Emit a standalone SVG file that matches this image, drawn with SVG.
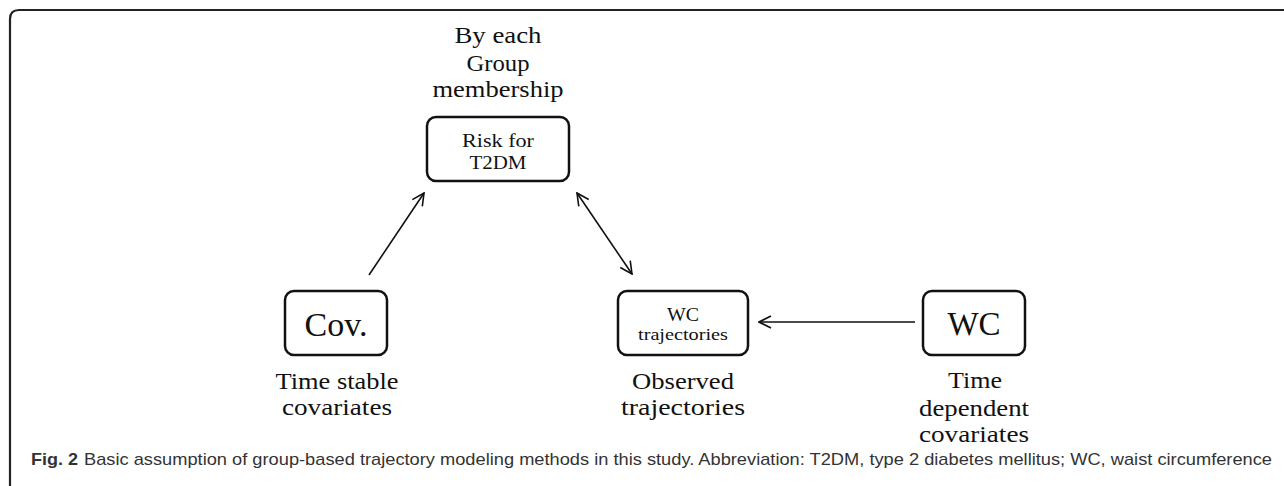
<svg xmlns="http://www.w3.org/2000/svg" width="1284" height="486" viewBox="0 0 1284 486">
<defs>
<style>
.box{fill:#fff;stroke:#111;stroke-width:2.5}
.t{font-family:"Liberation Serif","DejaVu Serif",serif;fill:#111;text-anchor:middle}
.cn{stroke:#111;stroke-width:1.6;fill:none}
.cap{font-family:"Liberation Sans","DejaVu Sans",sans-serif;font-size:17px;fill:#333}
</style>
<marker id="ah" viewBox="0 0 14 14" refX="13" refY="7" markerWidth="14" markerHeight="14" markerUnits="userSpaceOnUse" orient="auto-start-reverse">
<path d="M1,1 L13,7 L1,13" fill="none" stroke="#111" stroke-width="1.6"/>
</marker>
</defs>
<rect width="1284" height="486" fill="#fff"/>
<path d="M10,492 L10,19 Q10,10 19,10 L1290,10" fill="none" stroke="#222" stroke-width="2.2"/>

<g id="header">
<text class="t" x="498" y="43" font-size="24" textLength="87" lengthAdjust="spacingAndGlyphs">By each</text>
<text class="t" x="498" y="71" font-size="24" textLength="63" lengthAdjust="spacingAndGlyphs">Group</text>
<text class="t" x="498" y="97" font-size="24" textLength="131" lengthAdjust="spacingAndGlyphs">membership</text>
</g>
<g id="risk">
<rect class="box" x="427" y="117" width="142" height="64" rx="9"/>
<text class="t" x="498" y="147" font-size="19" textLength="72" lengthAdjust="spacingAndGlyphs">Risk for</text>
<text class="t" x="498" y="169" font-size="19" textLength="57" lengthAdjust="spacingAndGlyphs">T2DM</text>
</g>
<g id="cov">
<rect class="box" x="285" y="291" width="102" height="64" rx="9"/>
<text class="t" x="336" y="336" font-size="34">Cov.</text>
<text class="t" x="337" y="389" font-size="23" textLength="123" lengthAdjust="spacingAndGlyphs">Time stable</text>
<text class="t" x="337" y="415" font-size="23" textLength="110" lengthAdjust="spacingAndGlyphs">covariates</text>
</g>
<g id="wctraj">
<rect class="box" x="618" y="291" width="130" height="64" rx="9"/>
<text class="t" x="683" y="321" font-size="18" textLength="32" lengthAdjust="spacingAndGlyphs">WC</text>
<text class="t" x="683" y="340" font-size="16" textLength="90" lengthAdjust="spacingAndGlyphs">trajectories</text>
<text class="t" x="683" y="389" font-size="23" textLength="102" lengthAdjust="spacingAndGlyphs">Observed</text>
<text class="t" x="683" y="415" font-size="23" textLength="124" lengthAdjust="spacingAndGlyphs">trajectories</text>
</g>
<g id="wc">
<rect class="box" x="923" y="291" width="102" height="64" rx="9"/>
<text class="t" x="974" y="335" font-size="33">WC</text>
<text class="t" x="975" y="388" font-size="23" textLength="54" lengthAdjust="spacingAndGlyphs">Time</text>
<text class="t" x="974" y="416" font-size="23" textLength="110" lengthAdjust="spacingAndGlyphs">dependent</text>
<text class="t" x="974" y="442" font-size="23" textLength="110" lengthAdjust="spacingAndGlyphs">covariates</text>
</g>
<g id="connectors">
<line class="cn" x1="369" y1="275" x2="424" y2="193" marker-end="url(#ah)"/>
<line class="cn" x1="577" y1="193" x2="632" y2="274" marker-start="url(#ah)" marker-end="url(#ah)"/>
<line class="cn" x1="915" y1="322" x2="759" y2="322" marker-end="url(#ah)"/>
</g>
<g id="caption">
<text class="cap" x="31" y="465" font-weight="bold" textLength="47" lengthAdjust="spacingAndGlyphs" fill="#222">Fig. 2</text>
<text class="cap" x="84" y="465" textLength="1188" lengthAdjust="spacingAndGlyphs">Basic assumption of group-based trajectory modeling methods in this study. Abbreviation: T2DM, type 2 diabetes mellitus; WC, waist circumference</text>
</g>
</svg>
